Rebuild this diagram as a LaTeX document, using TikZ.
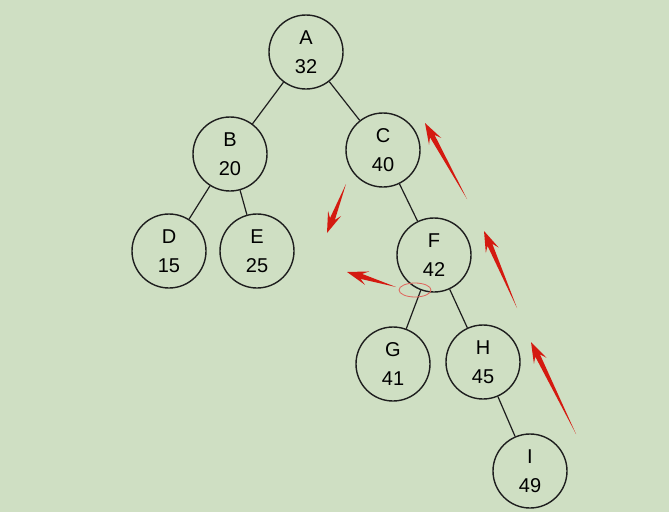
\documentclass[tikz,border=0pt]{standalone}
\usepackage{fontspec}
\setmainfont{Liberation Sans}
\usepackage{xcolor}
\usepackage{tikz}
\usetikzlibrary{calc}
\definecolor{bgc}{HTML}{CFDFC3}
\definecolor{linec}{HTML}{1E1E1E}
\definecolor{arc}{HTML}{D41A10}
\definecolor{elc}{HTML}{E0625A}
\tikzset{
  nd/.style={circle,draw=linec,line width=1.4pt,minimum size=74pt,inner sep=0pt,align=center,font=\fontsize{20}{29}\selectfont},
  ln/.style={draw=linec,line width=1.2pt}
}
\newcommand{\redar}[2]{%
  \coordinate (hb) at ($(#2)!15pt!(#1)$);
  \coordinate (hw) at ($(#2)!21pt!(#1)$);
  \fill[arc] (#1) -- ($(hb)!2.6pt!90:(#2)$) -- ($(hw)!7pt!90:(#2)$) -- (#2)
    -- ($(hw)!7pt!-90:(#2)$) -- ($(hb)!2.6pt!-90:(#2)$) -- cycle;}
\begin{document}
\begin{tikzpicture}[x=1pt,y=-1pt]
\fill[bgc] (0,0) rectangle (669,512);
\useasboundingbox (0,0) rectangle (669,512);
% tree
\node[nd] (A) at (306,52) {A\\32};
\node[nd] (B) at (230,154) {B\\20};
\node[nd] (C) at (383,150) {C\\40};
\node[nd] (D) at (169,251) {D\\15};
\node[nd] (E) at (257,251) {E\\25};
\node[nd] (F) at (434,255) {F\\42};
\node[nd] (G) at (393,364) {G\\41};
\node[nd] (H) at (483,362) {H\\45};
\node[nd] (I) at (530,471) {I\\49};
\foreach \u/\v in {A/B,A/C,B/D,B/E,C/F,F/G,F/H,H/I}{\draw[ln] (\u)--(\v);}
% red marks
\draw[elc,line width=0.8pt] (415,290) ellipse [x radius=16, y radius=7];
\foreach \i/\a/\b/\c/\d in {1/467/199/425/123,2/517/308/484/231,3/576/434/531/342,4/346/184/327/233,5/396/287/347/272}{
  \coordinate (t\i) at (\a,\b);
  \coordinate (p\i) at (\c,\d);
  \redar{t\i}{p\i}
}
\end{tikzpicture}
\end{document}
